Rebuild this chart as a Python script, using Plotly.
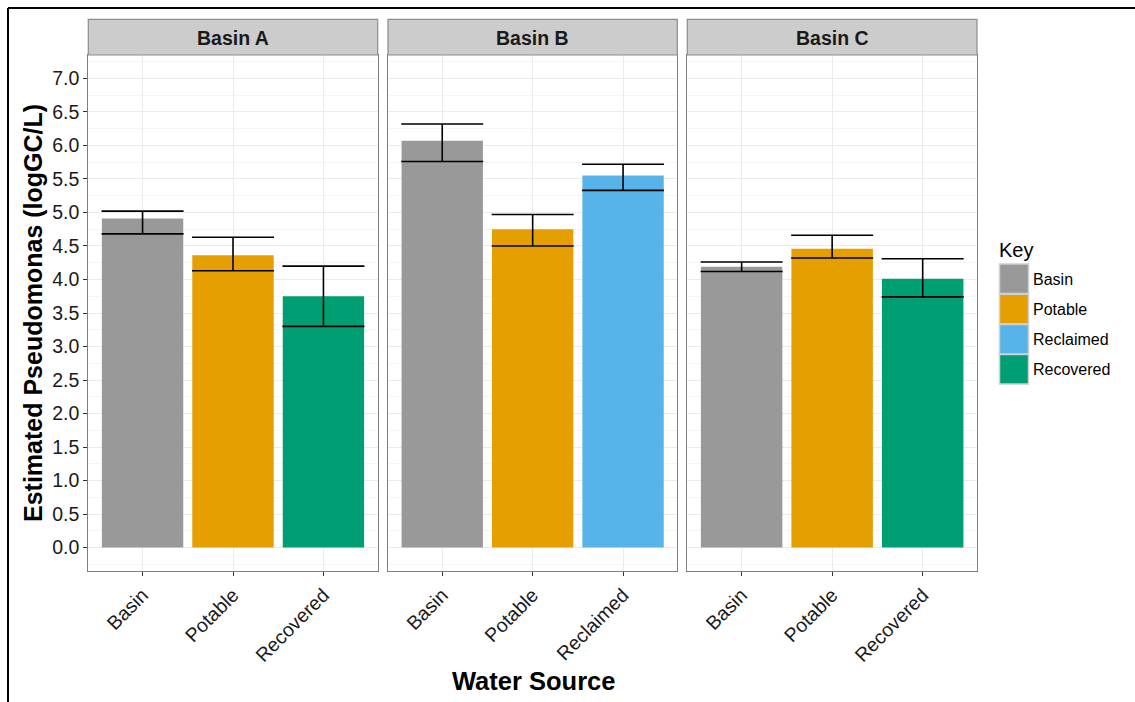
import plotly.graph_objects as go

# ---- data ----
basins = ["Basin A", "Basin B", "Basin C"]
sources_A = ["Basin", "Potable", "Recovered"]
means_A = [4.91, 4.36, 3.75]
upper_A = [5.02, 4.63, 4.20]
lower_A = [4.68, 4.13, 3.30]

sources_B = ["Basin", "Potable", "Reclaimed"]
means_B = [6.07, 4.75, 5.55]
upper_B = [6.32, 4.97, 5.72]
lower_B = [5.76, 4.50, 5.33]

sources_C = ["Basin", "Potable", "Recovered"]
means_C = [4.19, 4.46, 4.01]
upper_C = [4.26, 4.66, 4.31]
lower_C = [4.12, 4.32, 3.74]

key_labels = ["Basin", "Potable", "Reclaimed", "Recovered"]
key_colors = ["#999999", "#E69F00", "#56B4E9", "#009E73"]
y_ticks = [0.0, 0.5, 1.0, 1.5, 2.0, 2.5, 3.0, 3.5, 4.0, 4.5, 5.0, 5.5, 6.0, 6.5, 7.0]

color_of = dict(zip(key_labels, key_colors))
panels = [
    (sources_A, means_A, upper_A, lower_A),
    (sources_B, means_B, upper_B, lower_B),
    (sources_C, means_C, upper_C, lower_C),
]

FONT = "Liberation Sans, Arial, sans-serif"
W, H = 1135, 702
ML, MR, MT, MB = 88, W - 977, 55, H - 571
PW = 977 - 88
PH = 571 - 55

def px2x(px):
    return (px - ML) / PW

def px2y(py):
    return (571 - py) / PH

domains = [(px2x(88.3), px2x(377.7)), (px2x(388), px2x(677.3)), (px2x(687.3), px2x(977))]

TICK_SIZE = 19.5

fig = go.Figure()
layout = {}
for i, (src, m, up, lo) in enumerate(panels):
    n = "" if i == 0 else str(i + 1)
    fig.add_trace(go.Bar(
        x=src, y=m,
        marker=dict(color=[color_of[s] for s in src], line=dict(width=0)),
        width=0.9,
        error_y=dict(type="data", symmetric=False,
                     array=[u - v for u, v in zip(up, m)],
                     arrayminus=[v - l for v, l in zip(m, lo)],
                     color="black", thickness=1.6, width=41),
        xaxis="x" + n, yaxis="y" + n, showlegend=False,
        hoverinfo="x+y",
    ))
    layout["xaxis" + n] = dict(
        domain=list(domains[i]), anchor="y" + n, type="category",
        categoryorder="array", categoryarray=src,
        range=[-0.6, 2.6], showgrid=True, gridcolor="#ebebeb", gridwidth=1,
        showline=True, mirror=True, linecolor="#7f7f7f", linewidth=1.2,
        ticks="outside", ticklen=4, tickcolor="#333333", tickwidth=1.2,
        tickangle=-45, tickfont=dict(family=FONT, size=TICK_SIZE, color="#1a1a1a"),
        zeroline=False, fixedrange=True,
    )
    layout["yaxis" + n] = dict(
        domain=[0, 1], anchor="x" + n, range=[-0.35, 7.35],
        tickvals=y_ticks, ticktext=[f"{v:.1f}" for v in y_ticks],
        showticklabels=(i == 0),
        ticks="outside" if i == 0 else "", ticklen=4, tickcolor="#333333", tickwidth=1.2,
        tickfont=dict(family=FONT, size=TICK_SIZE, color="#1a1a1a"),
        showgrid=True, gridcolor="#ebebeb", gridwidth=1,
        minor=dict(dtick=0.25, tick0=0.25, showgrid=True, gridcolor="#f5f5f5", gridwidth=1),
        showline=True, mirror=True, linecolor="#7f7f7f", linewidth=1.2,
        zeroline=False, fixedrange=True,
    )
    if i > 0:
        layout["yaxis" + n]["matches"] = "y"

shapes = []
annotations = []
# strips
for i, b in enumerate(basins):
    x0, x1 = domains[i]
    shapes.append(dict(type="rect", xref="paper", yref="paper",
                       x0=x0, x1=x1, y0=px2y(55), y1=px2y(19.3),
                       fillcolor="#cccccc", line=dict(color="#8c8c8c", width=1.2), layer="above"))
    annotations.append(dict(text="<b>%s</b>" % b, xref="paper", yref="paper",
                            x=(x0 + x1) / 2, y=px2y(38), showarrow=False,
                            xanchor="center", yanchor="middle",
                            font=dict(family=FONT, size=19.5, color="#1a1a1a")))

# outer frame lines (left & top)
shapes.append(dict(type="line", xref="paper", yref="paper",
                   x0=px2x(8), x1=px2x(1140), y0=px2y(8), y1=px2y(8),
                   line=dict(color="black", width=2)))
shapes.append(dict(type="line", xref="paper", yref="paper",
                   x0=px2x(8), x1=px2x(8), y0=px2y(8), y1=px2y(710),
                   line=dict(color="black", width=2)))

# legend (Key)
annotations.append(dict(text="Key", xref="paper", yref="paper",
                        x=px2x(997), y=px2y(250), showarrow=False,
                        xanchor="left", yanchor="middle",
                        font=dict(family=FONT, size=20, color="black")))
for k, (lab, col) in enumerate(zip(key_labels, key_colors)):
    top = 264 + k * 30.2
    shapes.append(dict(type="rect", xref="paper", yref="paper",
                       x0=px2x(999.5), x1=px2x(1028.5), y0=px2y(top + 29.5), y1=px2y(top),
                       fillcolor=col, line=dict(color="#d0d0d0", width=1.5)))
    annotations.append(dict(text=lab, xref="paper", yref="paper",
                            x=px2x(1031), y=px2y(top + 15), showarrow=False,
                            xanchor="left", yanchor="middle",
                            font=dict(family=FONT, size=16, color="black")))

# axis titles
annotations.append(dict(text="<b>Estimated Pseudomonas (logGC/L)</b>", xref="paper", yref="paper",
                        x=px2x(33), y=px2y(313), showarrow=False, textangle=-90,
                        xanchor="center", yanchor="middle",
                        font=dict(family=FONT, size=25, color="black")))
annotations.append(dict(text="<b>Water Source</b>", xref="paper", yref="paper",
                        x=px2x(533), y=px2y(681), showarrow=False,
                        xanchor="center", yanchor="middle",
                        font=dict(family=FONT, size=25.5, color="black")))

fig.update_layout(
    **layout,
    width=W, height=H,
    margin=dict(l=ML, r=MR, t=MT, b=MB, autoexpand=False),
    paper_bgcolor="white", plot_bgcolor="white",
    shapes=shapes, annotations=annotations,
    showlegend=False, bargap=0.1,
    font=dict(family=FONT, color="black"),
)

fig.write_html("out.html", config={"displayModeBar": False},
               post_script="document.body.style.margin='0';document.body.style.overflow='hidden';")
